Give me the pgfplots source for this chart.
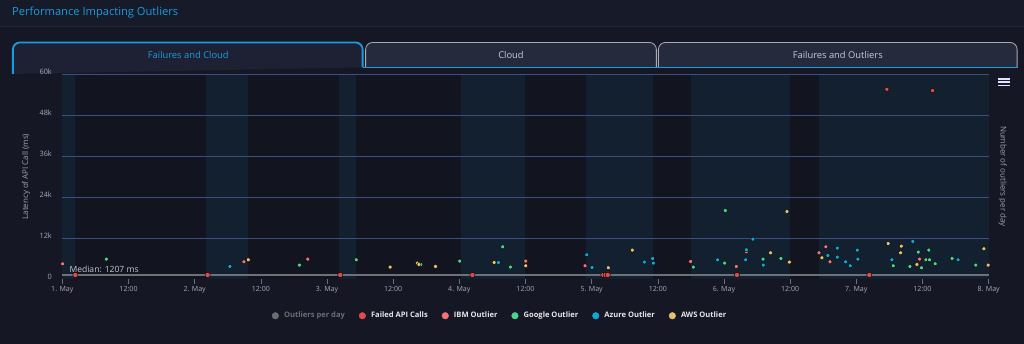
\documentclass[border=0pt]{standalone}
\usepackage{pgfplots}
\pgfplotsset{compat=1.18}
\usepackage{pgfplotstable}
\usepackage{fontspec}
\setmainfont{Open Sans}

\definecolor{pagebg}{HTML}{151724}
\definecolor{headbg}{HTML}{171A28}
\definecolor{headline}{HTML}{22263A}
\definecolor{plotbg}{HTML}{12141F}
\definecolor{bandc}{HTML}{12202F}
\definecolor{gridc}{HTML}{3D4F80}
\definecolor{tickc}{HTML}{A5A9B8}
\definecolor{labc}{HTML}{9EA2B0}
\definecolor{hicblue}{HTML}{1A9BE0}
\definecolor{tabact}{HTML}{1E2133}
\definecolor{tabin}{HTML}{262A3D}
\definecolor{tabedge}{HTML}{A9AAB4}
\definecolor{tabtext}{HTML}{C8CAD4}
\definecolor{medc}{HTML}{6E707A}
\definecolor{medtext}{HTML}{C8C9CF}
\definecolor{legtext}{HTML}{E6E7EC}
\definecolor{leggray}{HTML}{6C6D74}
\definecolor{failc}{HTML}{E24B4B}
\definecolor{ibmc}{HTML}{F27474}
\definecolor{googc}{HTML}{4CD28A}
\definecolor{azurec}{HTML}{14A6D2}
\definecolor{awsc}{HTML}{E6C06B}

% day offsets from 1 May 00:00, latency in ms
\pgfplotstableread{
d      v
0.098  1207
1.098  1207
2.100  1207
3.099  1207
4.088  1207
4.105  1207
4.122  1207
5.098  1207
6.098  1207
}\failedlow
\pgfplotstableread{
d      v
6.231  55610
6.576  55200
}\failedhigh
\pgfplotstableread{
d      v
0.002  4480
1.372  5060
1.855  5850
3.502  5270
3.950  3890
4.748  5150
5.093  3690
5.169  7990
5.492  4900
5.718  7700
5.770  9450
5.801  5060
6.478  5850
}\ibm
\pgfplotstableread{
d      v
0.332  5850
1.792  4100
2.221  5650
2.709  4270
3.003  5270
3.328  9450
3.386  3510
4.768  3510
5.005  4680
5.010  20080
5.295  5850
5.430  6030
6.279  3890
6.405  3690
6.468  7900
6.493  3310
6.526  5650
6.553  5650
6.548  8490
6.596  4480
6.724  6030
6.903  4100
}\google
\pgfplotstableread{
d      v
1.266  3690
3.296  4860
3.963  7110
4.003  3400
4.398  4980
4.461  6030
4.466  4680
4.952  5650
5.164  5650
5.169  8580
5.219  11710
5.297  4100
5.785  6910
5.856  9070
5.856  6440
5.919  5060
5.954  3890
6.007  8490
6.012  5850
6.269  5650
6.427  11010
6.769  5650
}\azure
\pgfplotstableread{
d      v
1.405  5650
2.477  3510
2.684  4680
2.695  4270
2.820  3690
3.263  4860
3.502  3890
4.126  3310
4.307  8490
5.352  7700
5.476  19790
5.494  4980
5.740  6230
6.241  10420
6.340  9660
6.335  7700
6.458  4270
6.964  8870
6.996  4100
}\aws

\begin{document}
\begin{tikzpicture}[x=1bp,y=1bp]
% page and header
\fill[pagebg] (0,0) rectangle (1024,344);
\fill[headbg] (0,318) rectangle (1024,344);
\draw[headline, line width=0.8bp] (0,318) -- (1024,318);
\node[anchor=west, inner sep=0pt, text=hicblue, font=\fontsize{11.2}{13}\selectfont] at (11.5,331) {Performance Impacting Outliers};

% tabs
\filldraw[fill=tabin, draw=tabedge, line width=0.8bp, rounded corners=7bp]
  (365.5,276.5) -- (365.5,301.5) -- (656.5,301.5) -- (656.5,276.5);
\filldraw[fill=tabin, draw=tabedge, line width=0.8bp, rounded corners=7bp]
  (658.5,276.5) -- (658.5,301.5) -- (1017.5,301.5) -- (1017.5,276.5);
\draw[hicblue, line width=1.6bp] (363,276.5) -- (1018,276.5);
\filldraw[fill=tabact, draw=hicblue, line width=1.8bp, rounded corners=7bp]
  (12.5,270) -- (12.5,301.5) -- (362.5,301.5) -- (362.5,276.5);
\node[text=hicblue, font=\fontsize{9.4}{11}\selectfont] at (188,289) {Failures and Cloud};
\node[text=tabtext, font=\fontsize{9.4}{11}\selectfont] at (511,289) {Cloud};
\node[text=tabtext, font=\fontsize{9.4}{11}\selectfont] at (838,289) {Failures and Outliers};

% axis titles and menu icon
\node[rotate=90, text=labc, font=\fontsize{8}{9}\selectfont] at (25.7,167.3) {Latency of API Call (ms)};
\node[rotate=-90, text=labc, font=\fontsize{8}{9}\selectfont] at (1003,167.5) {Number of outliers per day};
\foreach \yy in {265,261.7,258.5}
  \draw[white!88!blue, line width=1.8bp] (998.5,\yy) -- (1010,\yy);

\begin{axis}[
  scale only axis,
  width=927bp, height=205bp,
  at={(62bp,64.7bp)}, anchor=south west,
  xmin=0, xmax=7, ymin=0, ymax=60000,
  axis background/.style={fill=plotbg},
  axis line style={draw=none},
  clip=false,
  xtick={0,0.5,...,7},
  xticklabels={1. May,12:00,2. May,12:00,3. May,12:00,4. May,12:00,5. May,12:00,6. May,12:00,7. May,12:00,8. May},
  xtick pos=bottom,
  tick align=outside,
  major tick length=5bp,
  xtick style={draw=tickc!60!pagebg, line width=0.6bp},
  ytick={0,12000,24000,36000,48000,60000},
  yticklabels={0,12k,24k,36k,48k,60k},
  ytick style={draw=none},
  scaled y ticks=false,
  tick label style={font=\fontsize{7.1}{8}\selectfont, text=tickc},
  xticklabel style={inner sep=0pt, yshift=-2.2bp},
  yticklabel style={font=\fontsize{7.4}{8}\selectfont, inner sep=0pt, anchor=east, xshift=-5.3bp, yshift=2.5bp},
  legend style={at={(0.4725,-0.179)}, anchor=center, draw=none, fill=none,
    font=\fontsize{7.6}{9}\selectfont\bfseries, text=legtext,
    /tikz/every odd column/.append style={column sep=3.2bp},
    /tikz/every even column/.append style={column sep=12bp}},
  legend columns=6,
]
% plot bands
\fill[bandc] (axis cs:0,0) rectangle (axis cs:0.098,60000);
\fill[bandc] (axis cs:1.085,0) rectangle (axis cs:1.403,60000);
\fill[bandc] (axis cs:2.094,0) rectangle (axis cs:2.221,60000);
\fill[bandc] (axis cs:3.011,0) rectangle (axis cs:3.499,60000);
\fill[bandc] (axis cs:3.958,0) rectangle (axis cs:4.466,60000);
\fill[bandc] (axis cs:4.748,0) rectangle (axis cs:5.498,60000);
\fill[bandc] (axis cs:5.718,0) rectangle (axis cs:7,60000);
% horizontal grid lines over the bands
\draw[gridc, line width=0.9bp] (axis cs:0,12000) -- (axis cs:7,12000);
\draw[gridc, line width=0.9bp] (axis cs:0,24000) -- (axis cs:7,24000);
\draw[gridc, line width=0.9bp] (axis cs:0,36000) -- (axis cs:7,36000);
\draw[gridc, line width=0.9bp] (axis cs:0,48000) -- (axis cs:7,48000);
\draw[gridc, line width=0.9bp] (axis cs:0,60000) -- (axis cs:7,60000);

% median line
\addplot[medc, line width=2.5bp, forget plot] coordinates {(0,1207) (7,1207)};
\node[anchor=south west, inner sep=0pt, text=medtext, font=\fontsize{8.6}{10}\selectfont]
  at (axis cs:0,1207) [xshift=7bp, yshift=2.4bp] {Median: 1207 ms};

\addplot[only marks, mark=*, mark size=2.6bp, mark options={draw=none, fill=failc}, forget plot] table[x=d, y=v] {\failedlow};
\addplot[only marks, mark=*, mark size=2.1bp, mark options={draw=none, fill=failc}, forget plot] table[x=d, y=v] {\failedhigh};
\addplot[only marks, mark=*, mark size=2bp, mark options={draw=none, fill=ibmc}, forget plot] table[x=d, y=v] {\ibm};
\addplot[only marks, mark=*, mark size=2bp, mark options={draw=none, fill=googc}, forget plot] table[x=d, y=v] {\google};
\addplot[only marks, mark=*, mark size=2bp, mark options={draw=none, fill=azurec}, forget plot] table[x=d, y=v] {\azure};
\addplot[only marks, mark=*, mark size=2bp, mark options={draw=none, fill=awsc}, forget plot] table[x=d, y=v] {\aws};

% legend
\addlegendimage{legend image code/.code={\fill[leggray] (0bp,0bp) circle (3.3bp);}}
\addlegendentry{\textcolor{leggray}{Outliers per day}}
\addlegendimage{legend image code/.code={\fill[failc] (0bp,0bp) circle (3.3bp);}}
\addlegendentry{Failed API Calls}
\addlegendimage{legend image code/.code={\fill[ibmc] (0bp,0bp) circle (3.3bp);}}
\addlegendentry{IBM Outlier}
\addlegendimage{legend image code/.code={\fill[googc] (0bp,0bp) circle (3.3bp);}}
\addlegendentry{Google Outlier}
\addlegendimage{legend image code/.code={\fill[azurec] (0bp,0bp) circle (3.3bp);}}
\addlegendentry{Azure Outlier}
\addlegendimage{legend image code/.code={\fill[awsc] (0bp,0bp) circle (3.3bp);}}
\addlegendentry{AWS Outlier}
\end{axis}
\end{tikzpicture}
\end{document}
